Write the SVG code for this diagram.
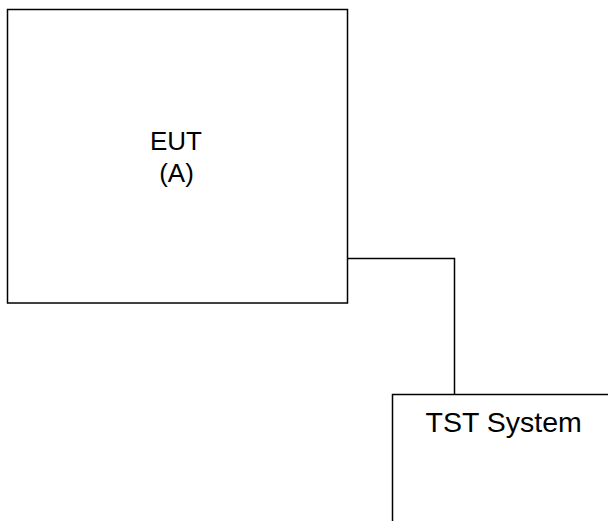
<svg xmlns="http://www.w3.org/2000/svg" width="608" height="521" viewBox="0 0 608 521">
<style>
.box{fill:none;stroke:#000;stroke-width:1.5}
.wire{fill:none;stroke:#000;stroke-width:1.5}
.lbl{font-family:"Liberation Sans",Arial,sans-serif;font-size:26px;fill:#000}
.big{font-size:28.5px}
</style>
<rect width="608" height="521" fill="#fff"/>
<g id="eut">
<rect class="box" x="7.5" y="9.5" width="340" height="293.5"/>
<text class="lbl" x="176" y="149.5" text-anchor="middle">EUT</text>
<text class="lbl" x="176.5" y="182" text-anchor="middle">(A)</text>
</g>
<g id="tst">
<path class="box" d="M392.5,521 V394.5 H610"/>
<text class="lbl big" x="425.5" y="431.5">TST System</text>
</g>
<g id="connectors">
<path class="wire" d="M347.5,258.5 H454.5 V394.5"/>
</g>
</svg>
